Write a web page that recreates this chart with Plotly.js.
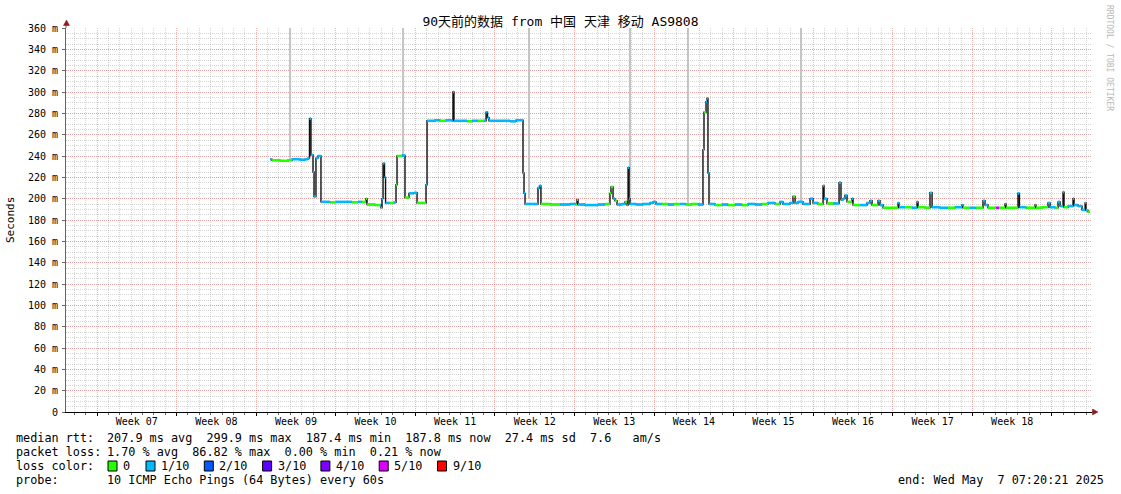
<!DOCTYPE html>
<html>
<head>
<meta charset="utf-8">
<script src="https://cdn.plot.ly/plotly-3.0.1.min.js"></script>
<style>html,body{margin:0;padding:0;background:#fff;}#chart{width:1121px;height:494px;}</style>
</head>
<body>
<div id="chart"></div>
<script>
// ---------------- DATA ----------------
// time: days since Monday 2025-02-10 00:00 (start of Week 07)
const weekLabels = ['Week 07','Week 08','Week 09','Week 10','Week 11','Week 12','Week 13','Week 14','Week 15','Week 16','Week 17','Week 18'];
const yTickValues = [0,20,40,60,80,100,120,140,160,180,200,220,240,260,280,300,320,340,360];
const yTickLabels = ['0','20 m','40 m','60 m','80 m','100 m','120 m','140 m','160 m','180 m','200 m','220 m','240 m','260 m','280 m','300 m','320 m','340 m','360 m'];

const medTime = [15.22,15.39,16.10,16.80,17.15,17.86,18.30,18.56,18.69,18.82,19.00,19.09,19.26,19.44,19.70,
  20.50,21.02,21.81,22.43,22.96,23.31,23.66,23.75,24.45,24.89,24.98,25.07,25.16,25.29,25.38,25.77,26.12,26.30,26.39,26.83,27.09,27.44,27.88,28.15,28.59,28.94,
  29.03,29.73,30.17,30.70,31.23,31.31,31.40,32.11,32.55,32.99,33.51,34.04,34.22,34.35,34.48,35.01,35.62,36.33,36.86,37.47,37.56,
  37.65,38.09,38.79,38.92,39.05,39.85,40.73,41.61,42.13,42.22,42.31,42.92,43.54,44.07,44.68,45.12,45.21,45.39,45.56,45.74,46.18,46.44,46.62,46.71,46.80,46.88,47.41,48.03,48.64,48.91,49.17,49.70,50.23,50.75,51.28,51.81,52.34,52.86,53.30,53.39,53.57,53.66,53.74,
  53.83,54.36,54.98,55.50,56.12,56.73,57.26,57.88,58.49,59.02,59.64,60.08,60.34,60.96,61.22,61.40,61.66,62.10,62.72,62.98,63.42,63.86,63.95,64.21,64.74,65.27,65.44,65.62,65.79,65.97,66.41,66.50,67.11,67.73,67.99,68.17,68.70,68.87,
  69.14,69.75,70.46,70.54,71.07,71.69,72.13,72.22,72.83,73.27,73.45,74.15,74.85,75.47,76.09,76.17,76.79,77.32,77.93,78.11,78.37,79.08,79.34,79.87,79.96,80.48,81.01,81.14,81.72,82.51,82.59,83.12,83.65,83.83,84.27,84.53,84.71,84.97,85.06,85.41,85.85,85.94,86.29,86.64,86.91,86.99,87.17,87.34];
const medValue = [237,236,235.5,236,237,236.5,237,238,275,241,225,202,238,240,197,
  196.5,197,197,196.5,197,197,200,194.5,194,194,191.5,200,233,220,196,196,196.5,213,240,240.5,201,205,205.5,196,196,213,
  273,273.5,273,273.5,273,300,273,273,272.5,273,273,273,281,276,273,273,273,272.5,273.5,224,205,
  195,195,210,212,195,194.5,194.5,195,194.5,199,194.5,194,194,194.5,195,205,211,200,198,194.5,195,197,194,229,200,195,194.5,195,196,197,195,195,194.5,195,195,194.5,195,194.5,246,281,291,294,224,
  195,194,194.5,194,194.5,194,195,194.5,195,196,195,197,195,196,202,196,197,195,200,196,195,212,200,195.5,195.5,215,199,200,203,197,200,194,194,196,198,194,198,194,
  191.5,191.5,196,192,192,191.5,197,192,191.5,205.5,192,191.5,191.5,192,194,191.5,191.5,191.5,198,194,191.5,191.5,191.5,195,191.5,191.5,205,192,191.5,194,191.5,192,196,192,191.5,197,193,206,192,193,200,194,193,189.5,196,189,187.8,187.8];
// loss colour index (0 = 0/10, 1 = 1/10, 5 = 5/10)
const medLoss = [1,0,0,0,1,1,1,1,1,1,1,1,1,1,1,
  0,1,1,0,1,0,0,0,0,1,0,1,1,1,1,0,1,0,0,1,0,1,1,0,0,1,
  1,1,0,1,1,1,1,1,0,1,0,1,1,1,1,1,1,1,1,1,1,
  1,1,1,1,0,0,1,1,0,0,1,1,1,1,0,0,0,1,0,1,1,0,1,1,1,1,1,1,1,1,1,0,1,0,1,0,0,1,1,0,1,1,1,
  1,0,1,0,1,0,1,1,0,1,0,1,1,1,0,1,1,1,1,1,0,1,1,0,1,1,1,1,1,0,1,0,1,1,1,0,1,1,
  0,0,1,1,0,1,1,0,0,1,1,1,0,1,1,0,1,0,1,1,0,5,0,1,0,0,1,1,0,1,0,0,1,1,0,1,1,1,0,1,1,1,1,1,1,1,0,0];

// gray "smoke" bursts (max ping far above the median)
const smokeTime = [16.98, 26.92, 38.00, 46.88, 51.98, 61.92];
const smokeLow  = [236, 240, 200, 197, 196, 197];
const smokeHigh = [400, 400, 400, 400, 400, 400];

const lossLabels = ['0','1/10','2/10','3/10','4/10','5/10','9/10'];
const lossColors = ['#26ff00','#00b8ff','#0059ff','#5e00ff','#7e00ff','#dd00ff','#ff0000'];
const lossIndexOf = {0:0, 1:1, 2:2, 3:3, 4:4, 5:5, 9:6};

const titleText = '90天前的数据 from 中国 天津 移动 AS9808';
const rowLabels = ['median rtt:', 'packet loss:', 'loss color:', 'probe:'];
const rttStats = '207.9 ms avg  299.9 ms max  187.4 ms min  187.8 ms now  27.4 ms sd  7.6   am/s';
const lossStats = '1.70 % avg  86.82 % max  0.00 % min  0.21 % now';
const probeText = '10 ICMP Echo Pings (64 Bytes) every 60s';
const endText = 'end: Wed May  7 07:20:21 2025';
const creditText = 'RRDTOOL / TOBI OETIKER';

// ---------------- BUILD ----------------
const FONT = 'DejaVu Sans Mono, Noto Sans CJK SC, monospace';
const X_RANGE = [-2.727, 87.519];
const L = 66, R = 29, T = 28, B = 82, W = 1121, H = 494;
const PW = W - L - R, PH = H - T - B;
const px = x => (x - L) / PW;
const py = y => (H - B - y) / PH;

const traces = [];
// smoke
const sx = [], sy = [];
smokeTime.forEach((t, i) => { sx.push(t, t, null); sy.push(smokeLow[i], smokeHigh[i], null); });
traces.push({type:'scatter', mode:'lines', x:sx, y:sy, line:{color:'#c4c4c4', width:2}, hoverinfo:'skip', showlegend:false});
// black median step line
traces.push({type:'scatter', mode:'lines', x:medTime, y:medValue, line:{color:'#111', width:1.4, shape:'hv'}, hoverinfo:'skip', showlegend:false});
// coloured horizontal pieces by loss
const groups = {};
for (let i = 0; i < medTime.length - 1; i++) {
  const k = medLoss[i];
  if (!groups[k]) groups[k] = {x:[], y:[]};
  groups[k].x.push(medTime[i], medTime[i+1], null);
  groups[k].y.push(medValue[i], medValue[i], null);
}
Object.keys(groups).forEach(k => {
  traces.push({type:'scatter', mode:'lines', x:groups[k].x, y:groups[k].y,
    line:{color:lossColors[lossIndexOf[k]], width:2.6}, hoverinfo:'skip', showlegend:false});
});
// week label axis carrier
const weekCenters = weekLabels.map((w, i) => 3.5 + 7 * i);
traces.push({type:'scatter', mode:'lines', x:X_RANGE, y:[null, null], xaxis:'x2', yaxis:'y', hoverinfo:'skip', showlegend:false});

const RED = 'rgba(235,110,110,0.5)';
const GRAY = 'rgba(170,170,170,0.5)';

const annotations = [];
const txt = (text, x, y, extra) => annotations.push(Object.assign({
  text, xref:'paper', yref:'paper', x:px(x), y:py(y), xanchor:'left', yanchor:'middle',
  showarrow:false, borderpad:0, font:{family:FONT, size:11.8, color:'#000'}}, extra || {}));

const rowY = [438, 452, 466, 480];
txt(rowLabels[0], 15, rowY[0]);
txt(rttStats, 106, rowY[0]);
txt(rowLabels[1], 15, rowY[1]);
txt(lossStats, 106, rowY[1]);
txt(rowLabels[2], 15, rowY[2]);
txt(rowLabels[3], 15, rowY[3]);
txt(probeText, 106, rowY[3]);
txt(endText, 1105, rowY[3], {xanchor:'right'});

const shapes = [];
lossLabels.forEach((lab, i) => {
  const bx = i === 0 ? 108 : 146 + 58.3 * (i - 1);
  shapes.push({type:'rect', xref:'paper', yref:'paper', x0:px(bx), x1:px(bx + 9), y0:py(rowY[2] + 5), y1:py(rowY[2] - 5),
    fillcolor:lossColors[i], line:{color:'#000', width:1}});
  txt(lab, bx + 14, rowY[2]);
});

// credit text
annotations.push({text:creditText, xref:'paper', yref:'paper', x:px(1110), y:py(58), xanchor:'center', yanchor:'middle',
  textangle:90, showarrow:false, font:{family:FONT, size:8, color:'#b8b8b8'}});
// y title
annotations.push({text:'Seconds', xref:'paper', yref:'paper', x:px(10), y:py(220), xanchor:'center', yanchor:'middle',
  textangle:-90, showarrow:false, font:{family:FONT, size:11, color:'#000'}});

// axis extensions and arrows
const AR = '#8b1a1a';
shapes.push({type:'line', xref:'paper', yref:'paper', x0:0, x1:0, y0:1, y1:py(23), line:{color:'#666', width:1}});
shapes.push({type:'line', xref:'paper', yref:'paper', x0:1, x1:px(1094), y0:0, y1:0, line:{color:'#000', width:1}});
shapes.push({type:'path', xref:'paper', yref:'paper',
  path:`M ${px(63.5)},${py(25.5)} L ${px(69.5)},${py(25.5)} L ${px(66.5)},${py(20)} Z`, fillcolor:AR, line:{color:AR, width:0.5}});
shapes.push({type:'path', xref:'paper', yref:'paper',
  path:`M ${px(1092.5)},${py(409)} L ${px(1092.5)},${py(415)} L ${px(1098)},${py(412)} Z`, fillcolor:AR, line:{color:AR, width:0.5}});

const layout = {
  width:W, height:H,
  margin:{l:L, r:R, t:T, b:B, pad:0},
  paper_bgcolor:'#fff', plot_bgcolor:'#fff',
  showlegend:false,
  font:{family:FONT, size:10, color:'#000'},
  title:{text:titleText, x:0.5, xref:'container', xanchor:'center', y:(H - 21) / H, yref:'container', yanchor:'middle',
    font:{family:FONT, size:13, color:'#000'}},
  xaxis:{range:X_RANGE, fixedrange:true, tickmode:'linear', tick0:0, dtick:7, showticklabels:false,
    showgrid:true, gridcolor:RED, gridwidth:1, griddash:'1px,1px', zeroline:false,
    showline:true, linecolor:'#000', linewidth:1, ticks:'outside', ticklen:3, tickcolor:'#000',
    minor:{tickmode:'linear', tick0:0, dtick:1, showgrid:true, gridcolor:GRAY, gridwidth:1, griddash:'1px,1px', ticks:'outside', ticklen:2, tickcolor:'#666'}},
  xaxis2:{range:X_RANGE, overlaying:'x', anchor:'y', side:'bottom', fixedrange:true, tickmode:'array', tickvals:weekCenters, ticktext:weekLabels,
    showgrid:false, zeroline:false, showline:false, ticks:'', ticklabelstandoff:2, tickfont:{family:FONT, size:10, color:'#000'}},
  yaxis:{range:[0,360], fixedrange:true, tickmode:'array', tickvals:yTickValues, ticktext:yTickLabels,
    showgrid:true, gridcolor:RED, gridwidth:1, griddash:'1px,1px', zeroline:false,
    showline:true, linecolor:'#666', linewidth:1, ticks:'outside', ticklen:3, tickcolor:'#666',
    tickfont:{family:FONT, size:10, color:'#000'}, ticklabelstandoff:2,
    minor:{tickmode:'linear', tick0:0, dtick:5, showgrid:true, gridcolor:GRAY, gridwidth:1, griddash:'1px,1px', ticks:''}},
  annotations, shapes
};

Plotly.newPlot('chart', traces, layout, {displayModeBar:false, staticPlot:true});
</script>
</body>
</html>
